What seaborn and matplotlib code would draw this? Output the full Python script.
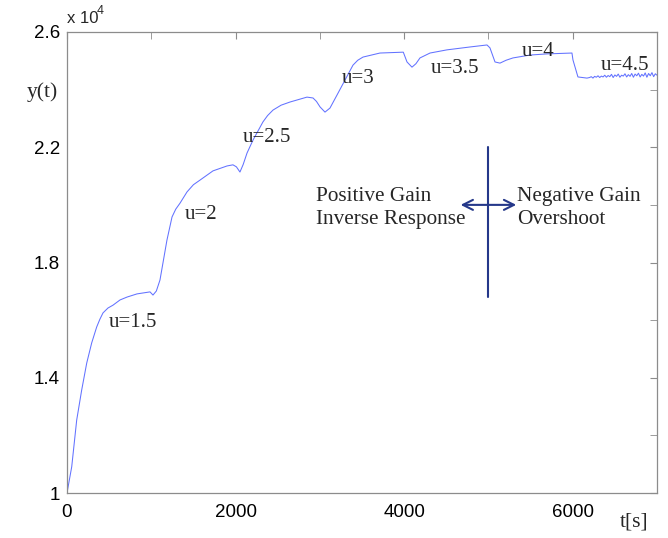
import numpy as np
import pandas as pd
import matplotlib
matplotlib.use('Agg')
import matplotlib.pyplot as plt
import seaborn as sns

# response: time [s] and y(t)
t_main = [0, 56, 115, 174, 234, 293, 352, 390, 427, 486, 546, 629, 712, 830,
          985, 1020, 1060, 1103, 1186, 1246, 1290, 1341, 1424, 1500, 1578,
          1732, 1898, 1969, 2010, 2052, 2090, 2136, 2207, 2325, 2380, 2444,
          2540, 2646, 2847, 2919, 2960, 3002, 3061, 3120, 3203, 3298, 3393,
          3450, 3512, 3713, 3990, 4034, 4093, 4140, 4188, 4307, 4508, 4780,
          4983, 5018, 5078, 5137, 5210, 5291, 5493, 5695, 5991, 6003, 6062,
          6169]
y_main = [10000, 10910, 12530, 13570, 14510, 15210, 15760, 16030, 16250, 16420,
          16520, 16700, 16800, 16910, 16980, 16870, 17010, 17390, 18780, 19580,
          19850, 20060, 20450, 20700, 20860, 21180, 21350, 21390, 21320, 21140,
          21400, 21800, 22250, 22880, 23100, 23290, 23460, 23570, 23740, 23710,
          23590, 23400, 23220, 23360, 23810, 24330, 24850, 25020, 25130, 25270,
          25300, 24960, 24780, 24900, 25100, 25270, 25380, 25480, 25550, 25450,
          24960, 24920, 25020, 25100, 25200, 25240, 25270, 25030, 24440, 24400]
# noisy tail after u=4.5 step
t_tail = [6200, 6220, 6240, 6260, 6280, 6300, 6320, 6340, 6360, 6380, 6400,
          6420, 6440, 6460, 6480, 6500, 6520, 6540, 6560, 6580, 6600, 6620,
          6640, 6660, 6680, 6700, 6720, 6740, 6760, 6780, 6800, 6820, 6840,
          6860, 6880, 6900, 6920, 6940, 6960, 6980, 7000]
y_tail = [24420, 24450, 24400, 24460, 24430, 24480, 24420, 24470, 24440, 24500,
          24430, 24490, 24450, 24530, 24420, 24510, 24460, 24540, 24430, 24500,
          24470, 24550, 24440, 24520, 24460, 24560, 24430, 24540, 24480, 24570,
          24440, 24530, 24470, 24580, 24430, 24560, 24480, 24590, 24450, 24550,
          24500]

# step labels: text, left x, centre y
u_labels = ['u=1.5', 'u=2', 'u=2.5', 'u=3', 'u=3.5', 'u=4', 'u=4.5']
u_x = [490, 1400, 2080, 3260, 4310, 5400, 6330]
u_y = [15930, 19680, 22330, 24370, 24720, 25310, 24830]

df = pd.DataFrame({'t': t_main + t_tail, 'y': y_main + y_tail})

sns.set_style('white')
plt.rcParams['font.family'] = ['Liberation Sans', 'DejaVu Sans']
serif = ['Liberation Serif', 'DejaVu Serif']
grey = '#8c8c8c'
navy = '#25388a'

fig = plt.figure(figsize=(6.68, 5.38), dpi=100)
ax = fig.add_axes([67 / 668, 45 / 538, 590 / 668, 461 / 538])

sns.lineplot(data=df, x='t', y='y', ax=ax, color='#6272ff', lw=0.75,
             sort=False, estimator=None)

ax.set_xlim(0, 7000)
ax.set_ylim(10000, 26000)
ax.set_xticks([0, 2000, 4000, 6000])
ax.set_xticks([1000, 3000, 5000], minor=True)
ax.set_xticklabels(['0', '2000', '4000', '6000'])
ax.set_yticks([10000, 14000, 18000, 22000, 26000])
ax.set_yticks([12000, 16000, 20000, 24000], minor=True)
ax.set_yticklabels(['1', '1.4', '1.8', '2.2', '2.6'])
ax.tick_params(which='both', direction='in', length=5, color=grey,
               top=True, right=True, labelsize=13.5, labelcolor='black')
ax.tick_params(axis='x', pad=8)
ax.tick_params(axis='y', pad=5)
for s in ax.spines.values():
    s.set_color(grey)
    s.set_linewidth(0.9)
ax.set_xlabel('')
ax.set_ylabel('')

# exponent like MATLAB
ax.text(0.0, 1.012, 'x 10', transform=ax.transAxes, fontsize=12,
        ha='left', va='bottom')
ax.text(0.051, 1.032, '4', transform=ax.transAxes, fontsize=9,
        ha='left', va='bottom')

fig.text(42 / 668, 1 - 92 / 538, 'y(t)', family=serif, fontsize=15.5,
         ha='center', va='center')
fig.text(620 / 668, 1 - 522 / 538, 't[s]', family=serif, fontsize=15.5,
         ha='left', va='center')

for lab, x, y in zip(u_labels, u_x, u_y):
    ax.text(x, y, lab, family=serif, fontsize=15, ha='left', va='center')

ax.plot([5000, 5000], [16800, 22000], color=navy, lw=1.5)
ax.annotate('', xy=(4670, 20000), xytext=(5330, 20000),
            arrowprops=dict(arrowstyle='<->', color=navy, lw=1.5,
                            mutation_scale=18, shrinkA=0, shrinkB=0))
ax.text(2960, 19880, 'Positive Gain\nInverse Response', family=serif,
        fontsize=15.3, ha='left', va='center', linespacing=1.3)
ax.text(5340, 19880, 'Negative Gain\nOvershoot', family=serif,
        fontsize=15.3, ha='left', va='center', linespacing=1.3)

plt.savefig('out.png', dpi=100)
